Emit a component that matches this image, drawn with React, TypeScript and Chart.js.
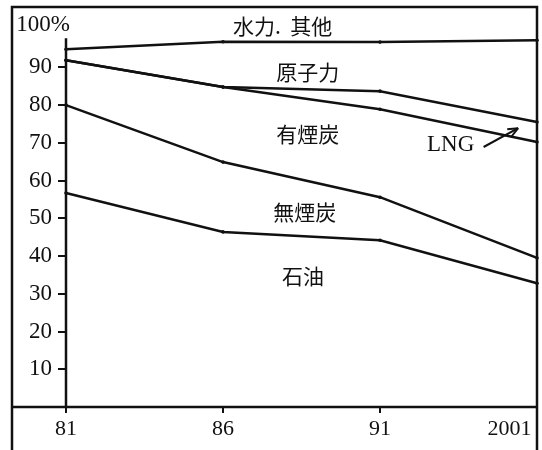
import React, { useEffect, useRef } from 'react';
import { Chart, registerables } from 'chart.js';

Chart.register(...registerables);

// ---- data (cumulative share boundaries, %) ----
const years = ['81', '86', '91', '2001'];
const hydroOtherLower = [94.8, 96.8, 96.7, 97.2]; // 水力.其他 / 原子力 boundary
const nuclearLower = [91.9, 84.8, 83.7, 75.5]; // 原子力 / LNG boundary
const lngLower = [91.9, 84.8, 78.9, 70.2]; // LNG / 有煙炭 boundary
const bituminousLower = [80.0, 64.9, 55.6, 39.5]; // 有煙炭 / 無煙炭 boundary
const anthraciteLower = [56.7, 46.4, 44.2, 32.8]; // 無煙炭 / 石油 boundary

const yTickValues = [10, 20, 30, 40, 50, 60, 70, 80, 90];
const yMax = 106;
const yAxisTop = 97.7;

// region labels: [text, x index, y value]
const regionLabels: [string, number, number][] = [
  ['水力.  其他', 1.38, 100.9],
  ['原子力', 1.54, 88.7],
  ['有煙炭', 1.54, 72.3],
  ['無煙炭', 1.52, 51.7],
  ['石油', 1.51, 34.7],
];
const lngLabel: [string, number, number] = ['LNG', 2.45, 69.4];
const lngArrow = { from: [2.66, 68.9], to: [2.88, 73.9] };
const unitLabel = '100%';

const INK = '#111';
const SERIF = '"Liberation Serif", "DejaVu Serif", serif';
const CJK = '"Noto Sans CJK JP", "Noto Sans CJK SC", sans-serif';

const decorations = {
  id: 'decorations',
  afterDraw(chart: any) {
    const { ctx, chartArea, scales } = chart;
    const xs = scales.x;
    const ys = scales.y;
    const frameLeft = 12;
    ctx.save();
    ctx.strokeStyle = INK;
    ctx.lineWidth = 2.5;
    ctx.beginPath();
    // outer frame
    ctx.moveTo(frameLeft, chart.height);
    ctx.lineTo(frameLeft, chartArea.top);
    ctx.lineTo(chartArea.right, chartArea.top);
    ctx.lineTo(chartArea.right, chart.height);
    // x axis line
    ctx.moveTo(frameLeft, chartArea.bottom);
    ctx.lineTo(chartArea.right, chartArea.bottom);
    // y axis line
    ctx.moveTo(chartArea.left, ys.getPixelForValue(yAxisTop));
    ctx.lineTo(chartArea.left, chartArea.bottom);
    ctx.stroke();

    ctx.fillStyle = INK;
    ctx.textBaseline = 'middle';
    // unit label
    ctx.font = `23px ${SERIF}`;
    ctx.textAlign = 'center';
    ctx.fillText(unitLabel, chartArea.left - 23, ys.getPixelForValue(101.2));

    // region labels
    ctx.font = `21px ${CJK}`;
    for (const [t, xi, yv] of regionLabels) {
      ctx.fillText(t, xs.getPixelForValue(xi), ys.getPixelForValue(yv));
    }
    // LNG label
    ctx.font = `23px ${SERIF}`;
    ctx.fillText(lngLabel[0], xs.getPixelForValue(lngLabel[1]), ys.getPixelForValue(lngLabel[2]));

    // arrow
    const x1 = xs.getPixelForValue(lngArrow.from[0]);
    const y1 = ys.getPixelForValue(lngArrow.from[1]);
    const x2 = xs.getPixelForValue(lngArrow.to[0]);
    const y2 = ys.getPixelForValue(lngArrow.to[1]);
    ctx.lineWidth = 2;
    ctx.beginPath();
    ctx.moveTo(x1, y1);
    ctx.lineTo(x2, y2);
    ctx.stroke();
    const ang = Math.atan2(y2 - y1, x2 - x1);
    const hl = 11;
    ctx.beginPath();
    ctx.moveTo(x2, y2);
    ctx.lineTo(x2 - hl * Math.cos(ang - 0.4), y2 - hl * Math.sin(ang - 0.4));
    ctx.moveTo(x2, y2);
    ctx.lineTo(x2 - hl * Math.cos(ang + 0.4), y2 - hl * Math.sin(ang + 0.4));
    ctx.stroke();
    ctx.restore();
  },
};

const lineDataset = (data: number[]) => ({
  data,
  borderColor: INK,
  backgroundColor: INK,
  borderWidth: 2.5,
  pointRadius: 1.8,
  pointBackgroundColor: INK,
  pointBorderWidth: 0,
  fill: false,
  tension: 0,
});

export default function App() {
  const ref = useRef<HTMLCanvasElement>(null);
  useEffect(() => {
    if (!ref.current) return;
    const chart = new Chart(ref.current, {
      type: 'line',
      data: {
        labels: years,
        datasets: [
          lineDataset(hydroOtherLower),
          lineDataset(nuclearLower),
          lineDataset(lngLower),
          lineDataset(bituminousLower),
          lineDataset(anthraciteLower),
        ],
      },
      options: {
        animation: false,
        responsive: false,
        devicePixelRatio: 1,
        events: [],
        layout: { padding: { left: 0, right: 5, top: 7, bottom: 0 } },
        plugins: { legend: { display: false }, tooltip: { enabled: false } },
        scales: {
          x: {
            type: 'category',
            offset: false,
            afterFit: (s: any) => {
              s.height = 43;
              s.paddingLeft = 0;
              s.paddingRight = 0;
            },
            border: { display: false },
            grid: { drawOnChartArea: false, drawTicks: true, tickLength: 6, color: INK, lineWidth: 2 },
            ticks: {
              color: INK,
              padding: 3,
              maxRotation: 0,
              autoSkip: false,
              font: { family: SERIF, size: 22 },
              callback: (_v: any, i: number) =>
                i === years.length - 1 ? years[i] + '\u2007\u2007\u2007\u2007\u2007' : years[i],
            },
          },
          y: {
            min: 0,
            max: yMax,
            afterFit: (s: any) => {
              s.width = 66;
              s.paddingTop = 0;
              s.paddingBottom = 0;
            },
            afterBuildTicks: (s: any) => {
              s.ticks = yTickValues.map((v) => ({ value: v }));
            },
            border: { display: false },
            grid: { drawOnChartArea: false, drawTicks: true, tickLength: 8, color: INK, lineWidth: 2 },
            ticks: {
              color: INK,
              padding: 6,
              font: { family: SERIF, size: 23 },
              callback: (v: any) => String(v),
            },
          },
        },
      },
      plugins: [decorations],
    });
    return () => chart.destroy();
  }, []);
  return (
    <div style={{ position: 'absolute', left: 0, top: 0, width: 542, height: 450, background: '#fff' }}>
      <canvas ref={ref} width={542} height={450} />
    </div>
  );
}
